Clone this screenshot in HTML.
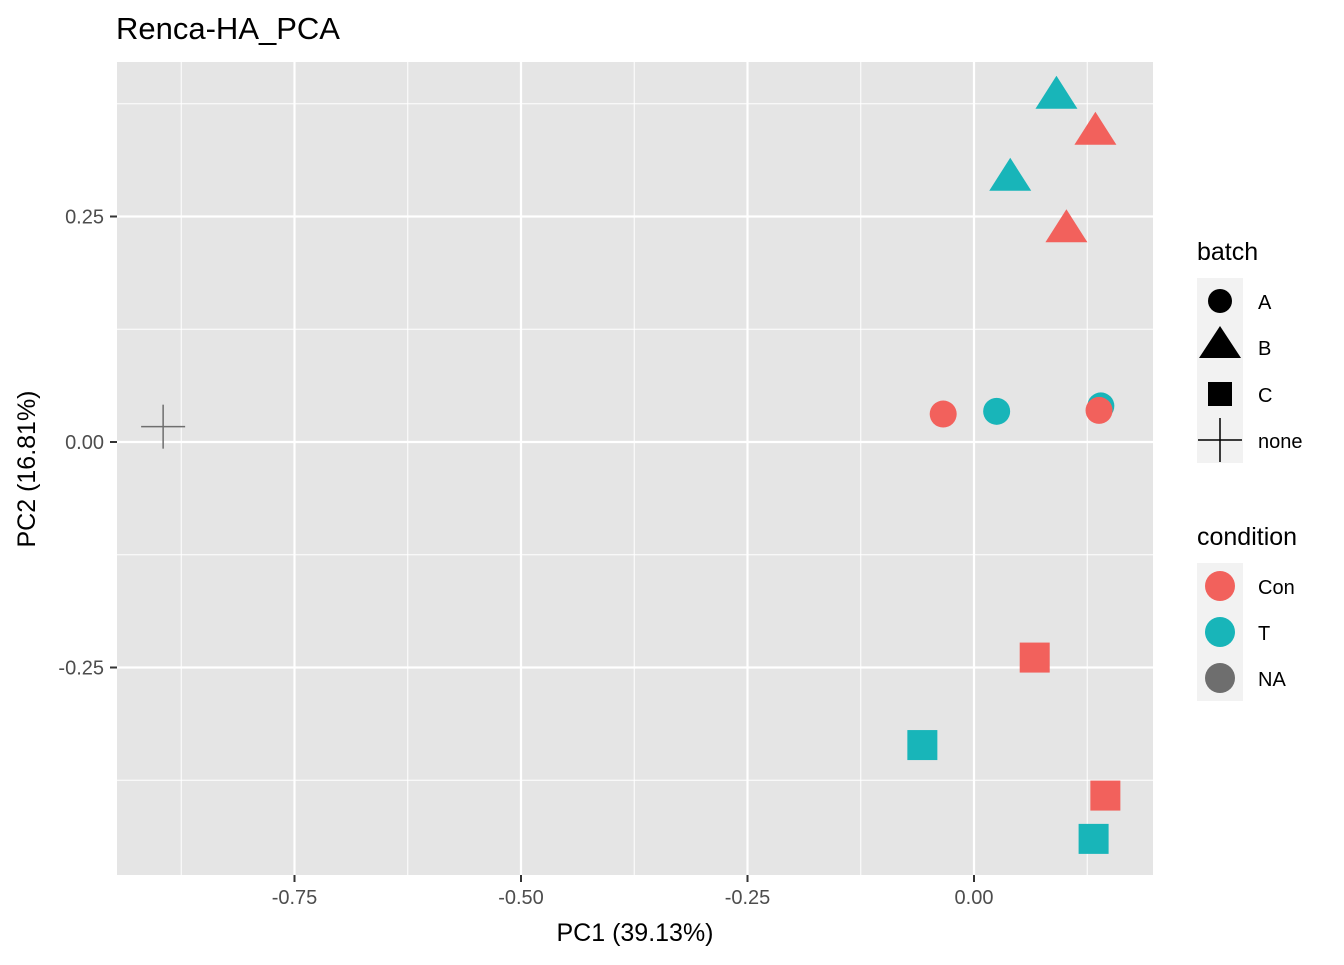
<!DOCTYPE html>
<html><head><meta charset="utf-8"><style>
body{margin:0;background:#fff;font-family:"Liberation Sans",Arial,sans-serif}
svg text{font-family:"Liberation Sans",Arial,sans-serif}
</style></head><body>
<svg id="chart" width="1344" height="960" xmlns="http://www.w3.org/2000/svg">
<text x="116" y="39" font-size="31" fill="#000">Renca-HA_PCA</text>
<rect x="117" y="62" width="1036" height="813" fill="#e5e5e5"/>
<g id="grid"></g>
<g id="points"></g>
<g id="axes"></g>
<text x="635" y="941" font-size="25" text-anchor="middle">PC1 (39.13%)</text>
<text transform="translate(35,469) rotate(-90)" font-size="25" text-anchor="middle">PC2 (16.81%)</text>
<g>
<text x="1197" y="260" font-size="25">batch</text>
<rect x="1197" y="278" width="46" height="185" fill="#f2f2f2"/>
<circle cx="1220" cy="301" r="12" fill="#000"/>
<text x="1258" y="309" font-size="20">A</text>
<polygon points="1220,326 1241,358 1199,358" fill="#000"/>
<text x="1258" y="355" font-size="20">B</text>
<rect x="1208" y="382" width="24" height="24" fill="#000"/>
<text x="1258" y="402" font-size="20">C</text>
<g stroke="#000" stroke-width="1.5"><line x1="1198" y1="440" x2="1242" y2="440"/><line x1="1220" y1="418" x2="1220" y2="462"/></g>
<text x="1258" y="448" font-size="20">none</text>
</g>
<g>
<text x="1197" y="545" font-size="25">condition</text>
<rect x="1197" y="563" width="46" height="138" fill="#f2f2f2"/>
<circle cx="1220" cy="586" r="15" fill="#F2615C"/>
<text x="1258" y="594" font-size="20">Con</text>
<circle cx="1220" cy="632" r="15" fill="#18B5B9"/>
<text x="1258" y="640" font-size="20">T</text>
<circle cx="1220" cy="678" r="15" fill="#6e6e6e"/>
<text x="1258" y="686" font-size="20">NA</text>
</g>
</svg>
<script>
const pc1 = [-0.895, -0.034, 0.025, 0.140, 0.138, 0.091, 0.134, 0.040, 0.102, 0.067, -0.057, 0.145, 0.132];
const pc2 = [0.017, 0.031, 0.034, 0.040, 0.035, 0.385, 0.345, 0.294, 0.237, -0.239, -0.336, -0.392, -0.440];
const batch = ["none","A","A","A","A","B","B","B","B","C","C","C","C"];
const condition = ["NA","Con","T","T","Con","T","Con","T","Con","Con","T","Con","T"];
const xTicks = [-0.75, -0.5, -0.25, 0];
const xTickLabels = ["-0.75","-0.50","-0.25","0.00"];
const yTicks = [0.25, 0, -0.25];
const yTickLabels = ["0.25","0.00","-0.25"];
const xMinor = [-0.875, -0.625, -0.375, -0.125, 0.125];
const yMinor = [0.375, 0.125, -0.125, -0.375];
const colors = {Con:"#F2615C", T:"#18B5B9", NA:"#6e6e6e"};
const NS = "http://www.w3.org/2000/svg";
function X(v){return 974 + v*906;}
function Y(v){return 442 - v*902;}
function mk(tag, attrs, parent){const e=document.createElementNS(NS,tag);for(const k in attrs)e.setAttribute(k,attrs[k]);parent.appendChild(e);return e;}
const grid=document.getElementById('grid'), pts=document.getElementById('points'), axes=document.getElementById('axes');
xMinor.forEach(v=>{const l=mk('line',{x1:X(v),x2:X(v),y1:62,y2:875,stroke:'#fff','stroke-width':1},grid);

});
yMinor.forEach(v=>{const l=mk('line',{x1:117,x2:1153,y1:Y(v),y2:Y(v),stroke:'#fff','stroke-width':1},grid);

});
xTicks.forEach((v,i)=>{const l=mk('line',{x1:X(v),x2:X(v),y1:62,y2:875,stroke:'#fff','stroke-width':2.2},grid);


mk('line',{x1:X(v),x2:X(v),y1:875,y2:882,stroke:'#333','stroke-width':2},axes);
const t=mk('text',{x:X(v),y:904,'font-size':20,fill:'#4d4d4d','text-anchor':'middle'},axes);t.textContent=xTickLabels[i];

});
yTicks.forEach((v,i)=>{const l=mk('line',{x1:117,x2:1153,y1:Y(v),y2:Y(v),stroke:'#fff','stroke-width':2.2},grid);


mk('line',{x1:110,x2:117,y1:Y(v),y2:Y(v),stroke:'#333','stroke-width':2},axes);
const t=mk('text',{x:104,y:Y(v)+7,'font-size':20,fill:'#4d4d4d','text-anchor':'end'},axes);t.textContent=yTickLabels[i];

});
pc1.forEach((v,i)=>{const cx=X(v), cy=Y(pc2[i]), c=colors[condition[i]]; let e;
if(batch[i]==='A') e=mk('circle',{cx:cx,cy:cy,r:13.5,fill:c},pts);
else if(batch[i]==='B') e=mk('polygon',{points:`${cx},${cy-19} ${cx+21},${cy+14} ${cx-21},${cy+14}`,fill:c},pts);
else if(batch[i]==='C') e=mk('rect',{x:cx-15,y:cy-15,width:30,height:30,fill:c},pts);
else { e=mk('g',{stroke:c,'stroke-width':1.5},pts); mk('line',{x1:cx-22,x2:cx+22,y1:cy,y2:cy},e); mk('line',{x1:cx,x2:cx,y1:cy-22,y2:cy+22},e); }

});
</script>
</body></html>
